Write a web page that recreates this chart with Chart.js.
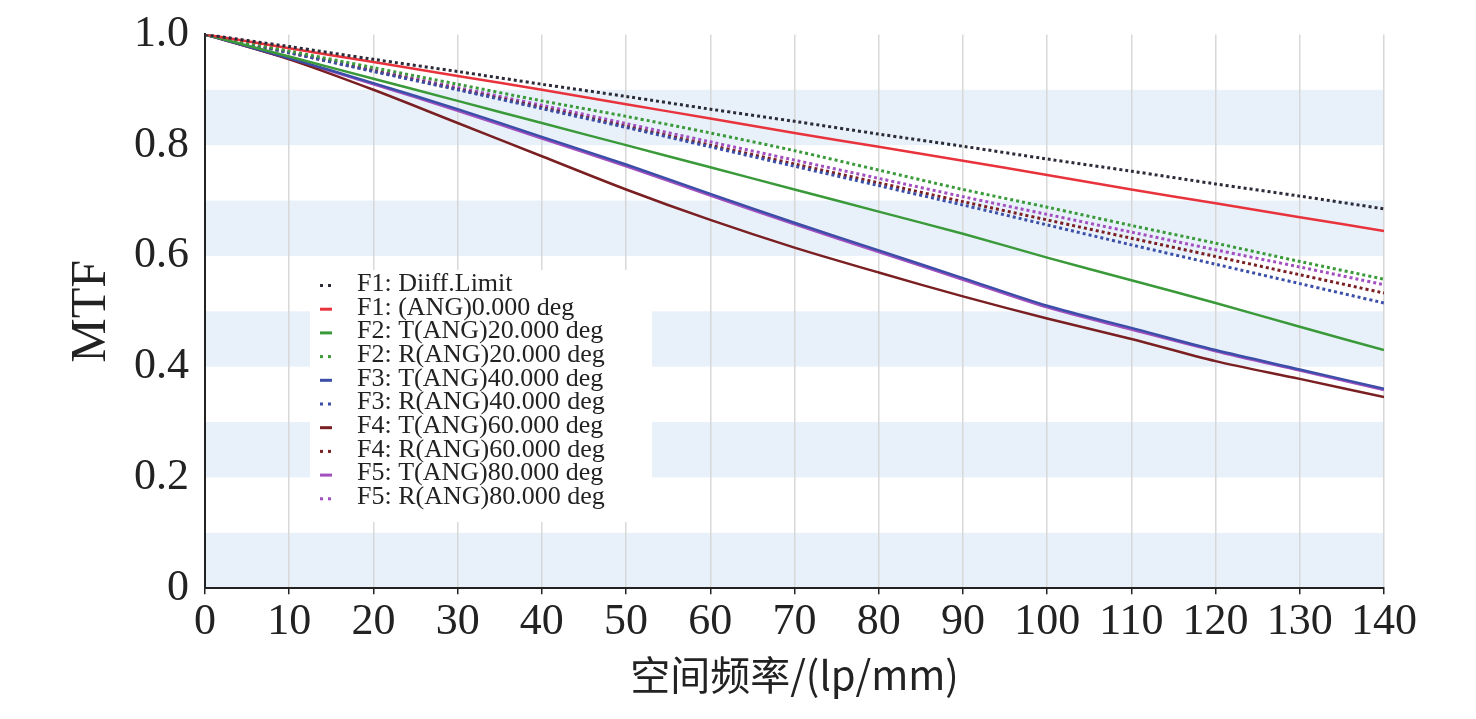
<!DOCTYPE html>
<html><head><meta charset="utf-8">
<script src="https://cdn.jsdelivr.net/npm/chart.js@4"></script>
<style>html,body{margin:0;padding:0;background:#fff}#w{width:1476px;height:719px}</style>
</head><body><div id="w"><canvas id="c"></canvas></div>
<script>
const freq = [0,10,20,30,40,50,60,70,80,90,100,110,120,130,140];
const diffLimit = [1,.978,.955,.933,.91,.888,.865,.843,.82,.798,.775,.753,.73,.708,.685];
const f1_0 = [1,.975,.95,.925,.9,.874,.848,.822,.797,.772,.746,.72,.695,.67,.645];
const f2_T20 = [1,.96,.92,.88,.84,.80,.76,.72,.68,.64,.597,.556,.515,.472,.43];
const f2_R20 = [1,.97,.94,.91,.88,.852,.822,.79,.755,.72,.688,.655,.623,.59,.558];
const f3_T40 = [1,.957,.912,.865,.815,.765,.712,.66,.61,.56,.51,.47,.43,.395,.36];
const f3_R40 = [1,.967,.933,.9,.866,.832,.797,.762,.727,.692,.656,.62,.585,.55,.515];
const f4_T60 = [1,.955,.9,.84,.78,.72,.665,.615,.57,.527,.487,.45,.41,.378,.345];
const f4_R60 = [1,.967,.934,.901,.868,.834,.8,.766,.732,.698,.665,.632,.599,.566,.533];
const f5_T80 = [1,.956,.91,.862,.812,.762,.709,.657,.607,.557,.507,.467,.428,.393,.358];
const f5_R80 = [1,.968,.936,.904,.872,.839,.806,.773,.74,.707,.675,.643,.611,.58,.548];
const yTicks = ['0','0.1','0.2','0.3','0.4','0.5','0.6','0.7','0.8','0.9','1.0'];

function ds(label, data, color, dotted){
  return {label, data, borderColor: color, backgroundColor: color, borderWidth: dotted?3:2.5,
    borderDash: dotted?[3,3]:[], pointRadius:0, tension:0.3, dotted};
}
const datasets = [
  ds('F1: Diiff.Limit', diffLimit, '#2b2b3a', true),
  ds('F1: (ANG)0.000 deg', f1_0, '#e8333c', false),
  ds('F2: T(ANG)20.000 deg', f2_T20, '#3a9a3a', false),
  ds('F2: R(ANG)20.000 deg', f2_R20, '#3a9a3a', true),
  ds('F3: T(ANG)40.000 deg', f3_T40, '#3b4fa8', false),
  ds('F3: R(ANG)40.000 deg', f3_R40, '#3b4fa8', true),
  ds('F4: T(ANG)60.000 deg', f4_T60, '#7a1f22', false),
  ds('F4: R(ANG)60.000 deg', f4_R60, '#7a1f22', true),
  ds('F5: T(ANG)80.000 deg', f5_T80, '#a24fc0', false),
  ds('F5: R(ANG)80.000 deg', f5_R80, '#a24fc0', true),
];
datasets.forEach(d => d.data = d.data.map((v,i)=>({x:freq[i], y:v})));

const bands = {id:'bands', beforeDraw(ch){
  const {ctx, chartArea:a, scales:{y}} = ch;
  ctx.save(); ctx.fillStyle='#e8f1fa';
  for(let v=0; v<1; v+=0.2){
    const t=y.getPixelForValue(v+0.1), b=y.getPixelForValue(v);
    ctx.fillRect(a.left, t, a.right-a.left, b-t);
  }
  ctx.restore();
}};
const legendBox = {id:'legendBox', afterDatasetsDraw(ch){
  const ctx=ch.ctx; const x0=310, y0=270;
  ctx.save(); ctx.fillStyle='#fff'; ctx.fillRect(x0,y0,342,252);
  ctx.font='26px "Liberation Serif"'; ctx.textBaseline='middle';
  ch.data.datasets.forEach((d,i)=>{
    const yy=y0+14+i*23.7;
    ctx.fillStyle=d.borderColor;
    if(d.dotted){ctx.fillRect(x0+10,yy,3,3);ctx.fillRect(x0+18,yy,3,3);}
    else ctx.fillRect(x0+10,yy,12,3);
    ctx.fillStyle='#222'; ctx.fillText(d.label, x0+47, yy);
  });
  ctx.restore();
}};
new Chart(document.getElementById('c'), {
  type:'line', data:{datasets},
  options:{responsive:true, maintainAspectRatio:false, animation:false,
    layout:{padding:{top:14,right:92,bottom:16,left:58}},
    plugins:{legend:{display:false}, tooltip:{enabled:false}},
    scales:{
      x:{type:'linear', min:0, max:140,
        ticks:{stepSize:10, color:'#222', font:{family:'Liberation Serif', size:44}, maxRotation:0, padding:2},
        grid:{color:'#d8d8d8', lineWidth:1.5, tickLength:6, tickColor:'#222'},
        border:{color:'#222', width:2},
        title:{display:true, text:'空间频率/(lp/mm)', color:'#222', font:{family:'Noto Sans CJK SC', size:40}, padding:{top:0}}},
      y:{min:0, max:1,
        ticks:{stepSize:0.1, color:'#222', font:{family:'Liberation Serif', size:44}, padding:8,
          callback:(v,i)=>yTicks[i]},
        grid:{display:false},
        border:{color:'#222', width:2},
        title:{display:true, text:'MTF', color:'#222', font:{family:'Liberation Serif', size:50}, padding:{bottom:4}}}
    }},
  plugins:[bands, legendBox]
});
</script></body></html>
